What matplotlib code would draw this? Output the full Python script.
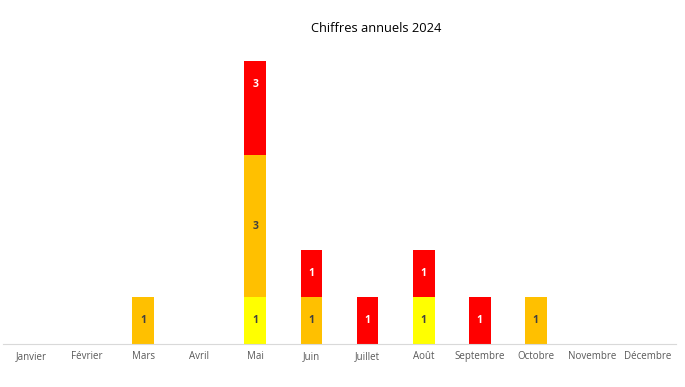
import matplotlib.pyplot as plt
import numpy as np

months = ['Janvier', 'Février', 'Mars', 'Avril', 'Mai', 'Juin', 'Juillet',
          'Août', 'Septembre', 'Octobre', 'Novembre', 'Décembre']
jaune = [0, 0, 0, 0, 1, 0, 0, 1, 0, 0, 0, 0]
orange = [0, 0, 1, 0, 3, 1, 0, 0, 0, 1, 0, 0]
rouge = [0, 0, 0, 0, 3, 1, 1, 1, 1, 0, 0, 0]

plt.rcParams['font.family'] = ['Open Sans', 'DejaVu Sans']

fig = plt.figure(figsize=(6.85, 3.87), dpi=100)
ax = fig.add_axes([3/685, 1 - 344/387, 673/685, (344 - 61)/387])

x = np.arange(len(months))
w = 0.39
series = [(jaune, '#FFFF00', '#404040'),
          (orange, '#FFC000', '#404040'),
          (rouge, '#FF0000', 'white')]
bottom = np.zeros(len(months))
for vals, col, tcol in series:
    vals = np.array(vals)
    ax.bar(x, vals, w, bottom=bottom, color=col, zorder=2)
    # labels at the middle of the full segment (even if clipped at the top)
    for xi, v, b in zip(x, vals, bottom):
        if v > 0:
            ax.text(xi, b + v / 2, str(v), ha='center', va='center',
                    color=tcol, fontsize=7.5, fontweight='bold', zorder=3)
    bottom += vals

ax.set_xlim(-0.5, 11.5)
ax.set_ylim(0, 6)
ax.set_yticks([])
ax.set_xticks(x)
ax.set_xticklabels(months, fontsize=7, color='#595959')
ax.tick_params(axis='x', length=0, pad=5)
for s in ['top', 'right', 'left']:
    ax.spines[s].set_visible(False)
ax.spines['bottom'].set_color('#D9D9D9')

fig.text(376/685, 1 - 28/387, 'Chiffres annuels 2024', ha='center', va='center',
         fontsize=9.3, color='#000000')

plt.savefig('out.png', dpi=100)
